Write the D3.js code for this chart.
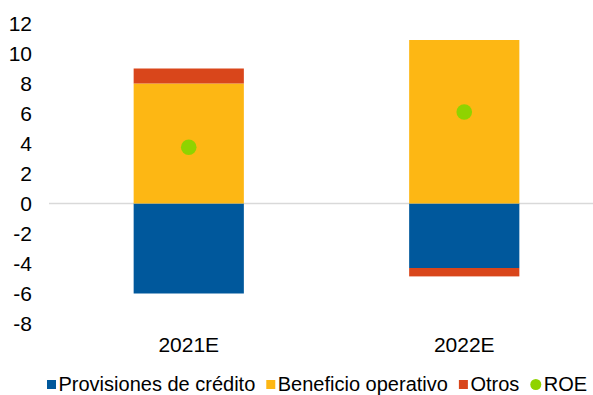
<!DOCTYPE html>
<html>
<head>
<meta charset="utf-8">
<script src="https://cdn.jsdelivr.net/npm/d3@7"></script>
<style>
  html, body { margin: 0; padding: 0; background: #fff; }
  svg { display: block; font-family: "Liberation Sans", Arial, sans-serif; }
</style>
</head>
<body>
<svg id="chart" width="593" height="395"></svg>
<script>
const categories = ["2021E", "2022E"];
const seriesNames = ["Provisiones de crédito", "Beneficio operativo", "Otros"];
const provisiones = [-6.0, -4.3];
const beneficio = [8.0, 10.9];
const otros = [1.0, -0.56];
const roe = [3.75, 6.1];
const yTicks = [-8, -6, -4, -2, 0, 2, 4, 6, 8, 10, 12];
const colors = ["#00589c", "#fdb714", "#d9461b", "#8fd300"];

const svg = d3.select("#chart");

const rows = categories.map((c, i) => ({
  cat: c,
  "Provisiones de crédito": provisiones[i],
  "Beneficio operativo": beneficio[i],
  "Otros": otros[i]
}));

const x = d3.scaleBand().domain(categories).range([51, 602])
  .paddingInner(0.6).paddingOuter(0.3);
const y = d3.scaleLinear().domain([-8, 12]).range([323.5, 23.5]);

const stack = d3.stack().keys(seriesNames).offset(d3.stackOffsetDiverging);
const stacked = stack(rows);

// zero line
svg.append("line")
  .attr("x1", 49).attr("x2", 602)
  .attr("y1", y(0)).attr("y2", y(0))
  .attr("stroke", "#d9d9d9").attr("stroke-width", 1.5);

// bars
svg.append("g").selectAll("g").data(stacked).join("g")
  .attr("fill", (d, i) => colors[i])
  .selectAll("rect").data(d => d).join("rect")
  .attr("x", d => x(d.data.cat))
  .attr("width", x.bandwidth())
  .attr("y", d => y(Math.max(d[0], d[1])))
  .attr("height", d => Math.abs(y(d[0]) - y(d[1])));

// ROE dots
svg.append("g").selectAll("circle").data(categories).join("circle")
  .attr("cx", d => x(d) + x.bandwidth() / 2)
  .attr("cy", (d, i) => y(roe[i]))
  .attr("r", 7.8)
  .attr("fill", colors[3]);

// y axis
const yAxis = d3.axisLeft(y).tickValues(yTicks).tickSize(0).tickPadding(0)
  .tickFormat(d => String(d));
const gy = svg.append("g").attr("transform", "translate(32,0)").call(yAxis);
gy.select(".domain").remove();
gy.selectAll("text").attr("font-size", 21).attr("fill", "#000")
  .attr("font-family", "Liberation Sans, Arial, sans-serif");

// x axis labels
const xAxis = d3.axisBottom(x).tickSize(0).tickPadding(0);
const gx = svg.append("g").attr("transform", "translate(0,337)").call(xAxis);
gx.select(".domain").remove();
gx.selectAll("text").attr("font-size", 21).attr("fill", "#000")
  .attr("font-family", "Liberation Sans, Arial, sans-serif");

// legend
const legendNames = seriesNames.concat(["ROE"]);
const lg = svg.append("g");
let lx = 47;
const ly = 391;
legendNames.forEach((name, i) => {
  if (i < 3) {
    lg.append("rect").attr("x", lx).attr("y", ly - 11).attr("width", 9).attr("height", 9)
      .attr("fill", colors[i]);
  } else {
    lg.append("circle").attr("cx", lx + 5.5).attr("cy", ly - 6.5).attr("r", 5.5)
      .attr("fill", colors[i]);
  }
  const t = lg.append("text").attr("x", lx + (i < 3 ? 11.5 : 13.5)).attr("y", ly)
    .attr("font-size", 20).attr("fill", "#000").text(name);
  const w = t.node().getComputedTextLength();
  lx = lx + (i < 3 ? 11.5 : 13.5) + w + 11;
});
</script>
</body>
</html>
